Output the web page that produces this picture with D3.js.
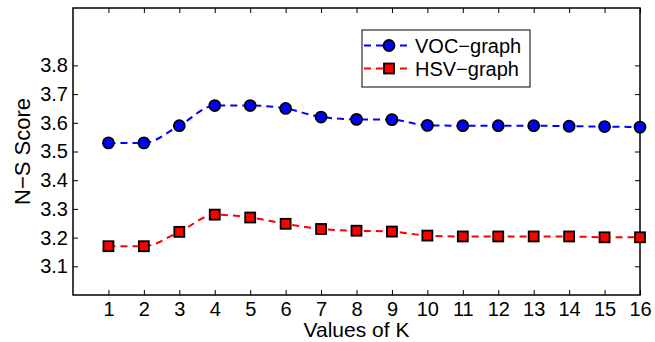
<!DOCTYPE html>
<html>
<head>
<meta charset="utf-8">
<script src="https://cdn.jsdelivr.net/npm/d3@7"></script>
<style>
  body { margin: 0; background: #fff; }
  text { font-family: "Liberation Sans", Arial, sans-serif; }
</style>
</head>
<body>
<div id="chart"></div>
<script>
const kValues = [1, 2, 3, 4, 5, 6, 7, 8, 9, 10, 11, 12, 13, 14, 15, 16];
const vocScores = [3.53, 3.53, 3.59, 3.66, 3.66, 3.65, 3.62, 3.612, 3.611, 3.591, 3.59, 3.59, 3.59, 3.588, 3.587, 3.585];
const hsvScores = [3.17, 3.17, 3.22, 3.28, 3.27, 3.248, 3.23, 3.224, 3.221, 3.207, 3.204, 3.204, 3.204, 3.204, 3.201, 3.201];
const yTicks = [3.1, 3.2, 3.3, 3.4, 3.5, 3.6, 3.7, 3.8];
const seriesNames = ['VOC\u2212graph', 'HSV\u2212graph'];

const width = 655;
const height = 342;
const margin = { top: 8, right: 15, bottom: 47, left: 73 };
const iw = width - margin.left - margin.right;
const ih = height - margin.top - margin.bottom;

const svg = d3.select('#chart')
  .append('svg')
  .attr('width', width)
  .attr('height', height);

const g = svg.append('g')
  .attr('transform', `translate(${margin.left},${margin.top})`);

const x = d3.scaleLinear().domain([0, 16]).range([0, iw]);
const y = d3.scaleLinear().domain([3.0, 4.0]).range([ih, 0]);

// axes with inward ticks on all sides (box style)
const fmt = d3.format('.1f');
const styleAxis = sel => {
  sel.select('.domain').remove();
  sel.selectAll('line').attr('stroke', '#000').attr('stroke-width', 1);
  sel.selectAll('text').attr('font-size', 20).attr('fill', '#000');
};

g.append('g')
  .attr('transform', `translate(0,${ih})`)
  .call(d3.axisBottom(x).tickValues(kValues).tickSize(-5).tickPadding(7))
  .call(styleAxis);

g.append('g')
  .call(d3.axisTop(x).tickValues(kValues).tickSize(-5).tickFormat(''))
  .call(styleAxis);

g.append('g')
  .call(d3.axisLeft(y).tickValues(yTicks).tickSize(-5).tickPadding(5).tickFormat(fmt))
  .call(styleAxis);

g.append('g')
  .attr('transform', `translate(${iw},0)`)
  .call(d3.axisRight(y).tickValues(yTicks).tickSize(-5).tickFormat(''))
  .call(styleAxis);

g.append('rect')
  .attr('width', iw)
  .attr('height', ih)
  .attr('fill', 'none')
  .attr('stroke', '#000')
  .attr('stroke-width', 1.5);

// lines
const line = d3.line()
  .x((d, i) => x(kValues[i]))
  .y(d => y(d))
  .curve(d3.curveMonotoneX);

g.append('path')
  .datum(vocScores)
  .attr('d', line)
  .attr('fill', 'none')
  .attr('stroke', '#0000ff')
  .attr('stroke-width', 2)
  .attr('stroke-dasharray', '7,5');

g.append('path')
  .datum(hsvScores)
  .attr('d', line)
  .attr('fill', 'none')
  .attr('stroke', '#ff0000')
  .attr('stroke-width', 2)
  .attr('stroke-dasharray', '7,5');

// markers
g.selectAll('.voc')
  .data(vocScores)
  .join('circle')
  .attr('class', 'voc')
  .attr('cx', (d, i) => x(kValues[i]))
  .attr('cy', d => y(d))
  .attr('r', 5.5)
  .attr('fill', '#0000ff')
  .attr('stroke', '#000')
  .attr('stroke-width', 1.8);

g.selectAll('.hsv')
  .data(hsvScores)
  .join('rect')
  .attr('class', 'hsv')
  .attr('x', (d, i) => x(kValues[i]) - 5)
  .attr('y', d => y(d) - 5)
  .attr('width', 10)
  .attr('height', 10)
  .attr('fill', '#ff0000')
  .attr('stroke', '#000')
  .attr('stroke-width', 1.8);

// axis labels
svg.append('text')
  .attr('x', margin.left + iw / 2)
  .attr('y', 337)
  .attr('text-anchor', 'middle')
  .attr('font-size', 21)
  .text('Values of K');

svg.append('text')
  .attr('transform', `translate(30,${margin.top + ih / 2}) rotate(-90)`)
  .attr('text-anchor', 'middle')
  .attr('font-size', 22)
  .text('N\u2212S Score');

// legend
const lg = svg.append('g').attr('transform', 'translate(362,30)');
lg.append('rect')
  .attr('width', 168)
  .attr('height', 57)
  .attr('fill', '#fff')
  .attr('stroke', '#000')
  .attr('stroke-width', 1);

const legendItems = [
  { name: seriesNames[0], color: '#0000ff', shape: 'circle', dy: 15.5 },
  { name: seriesNames[1], color: '#ff0000', shape: 'square', dy: 38.5 }
];
legendItems.forEach(it => {
  lg.append('line')
    .attr('x1', 2).attr('x2', 46)
    .attr('y1', it.dy).attr('y2', it.dy)
    .attr('stroke', it.color)
    .attr('stroke-width', 2)
    .attr('stroke-dasharray', '7,5');
  if (it.shape === 'circle') {
    lg.append('circle')
      .attr('cx', 27).attr('cy', it.dy).attr('r', 5.5)
      .attr('fill', it.color).attr('stroke', '#000').attr('stroke-width', 1.8);
  } else {
    lg.append('rect')
      .attr('x', 22).attr('y', it.dy - 5).attr('width', 10).attr('height', 10)
      .attr('fill', it.color).attr('stroke', '#000').attr('stroke-width', 1.8);
  }
  lg.append('text')
    .attr('x', 53)
    .attr('y', it.dy + 7)
    .attr('font-size', 20)
    .text(it.name);
});
</script>
</body>
</html>
